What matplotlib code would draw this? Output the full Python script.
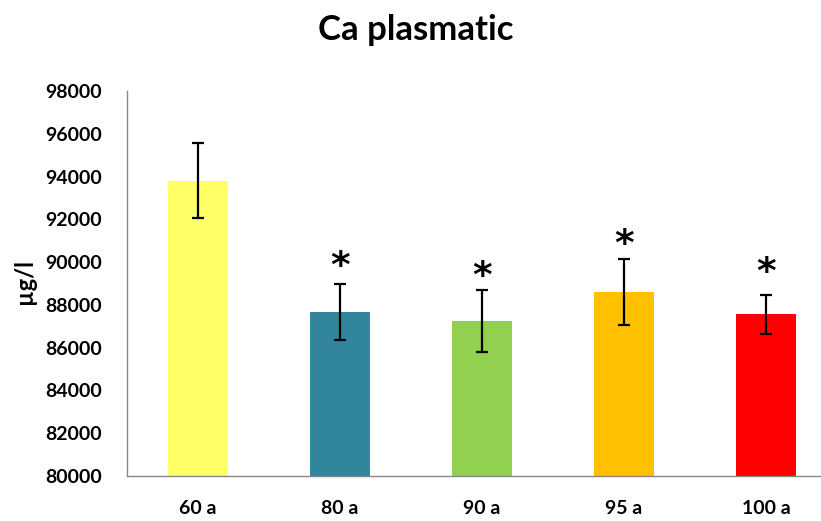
import matplotlib.pyplot as plt

# Ca plasmatic by age group
groups = ["60 a", "80 a", "90 a", "95 a", "100 a"]
means = [93800, 87680, 87250, 88590, 87570]
errors = [1760, 1310, 1460, 1550, 910]
colors = ["#FFFF66", "#31859C", "#92D050", "#FFC000", "#FF0000"]
# significance stars (None = no star), y in data units
star_y = [None, 89750, 89300, 90800, 89500]

plt.rcParams['font.family'] = ['Lato', 'DejaVu Sans']

fig = plt.figure(figsize=(8.21, 5.21), dpi=100)
ax = fig.add_axes([127 / 821, 45 / 521, 710 / 821, 385 / 521])

x = list(range(len(groups)))
ax.bar(x, [m - 80000 for m in means], bottom=80000, width=0.42, color=colors)
ax.errorbar(x, means, yerr=errors, fmt='none', ecolor='black',
            elinewidth=1.6, capsize=4, capthick=1.6)

for xi, sy in zip(x, star_y):
    if sy is not None:
        ax.text(xi, sy, "*", ha='center', va='center', fontsize=27,
                fontweight='heavy', family='DejaVu Sans')

ax.set_xlim(-0.5, 4.5)
ax.set_ylim(80000, 98000)
ax.set_yticks(range(80000, 98001, 2000))
ax.set_xticks(x)
ax.set_xticklabels(groups)

for s in ['top', 'right']:
    ax.spines[s].set_visible(False)
for s in ['left', 'bottom']:
    ax.spines[s].set_color('#868686')
    ax.spines[s].set_linewidth(1.0)

ax.tick_params(axis='y', length=0, pad=18, labelsize=14)
ax.tick_params(axis='x', length=0, pad=17, labelsize=14)
for lbl in ax.get_yticklabels() + ax.get_xticklabels():
    lbl.set_fontweight('bold')

fig.text(25 / 821, 1 - 282 / 521, "µg/l", rotation=90, ha='center', va='center',
         fontsize=17, fontweight='bold')
fig.text(416 / 821, 1 - 40 / 521, "Ca plasmatic", ha='center', va='baseline',
         fontsize=25, fontweight='bold')

fig.savefig("out.png", dpi=100)
